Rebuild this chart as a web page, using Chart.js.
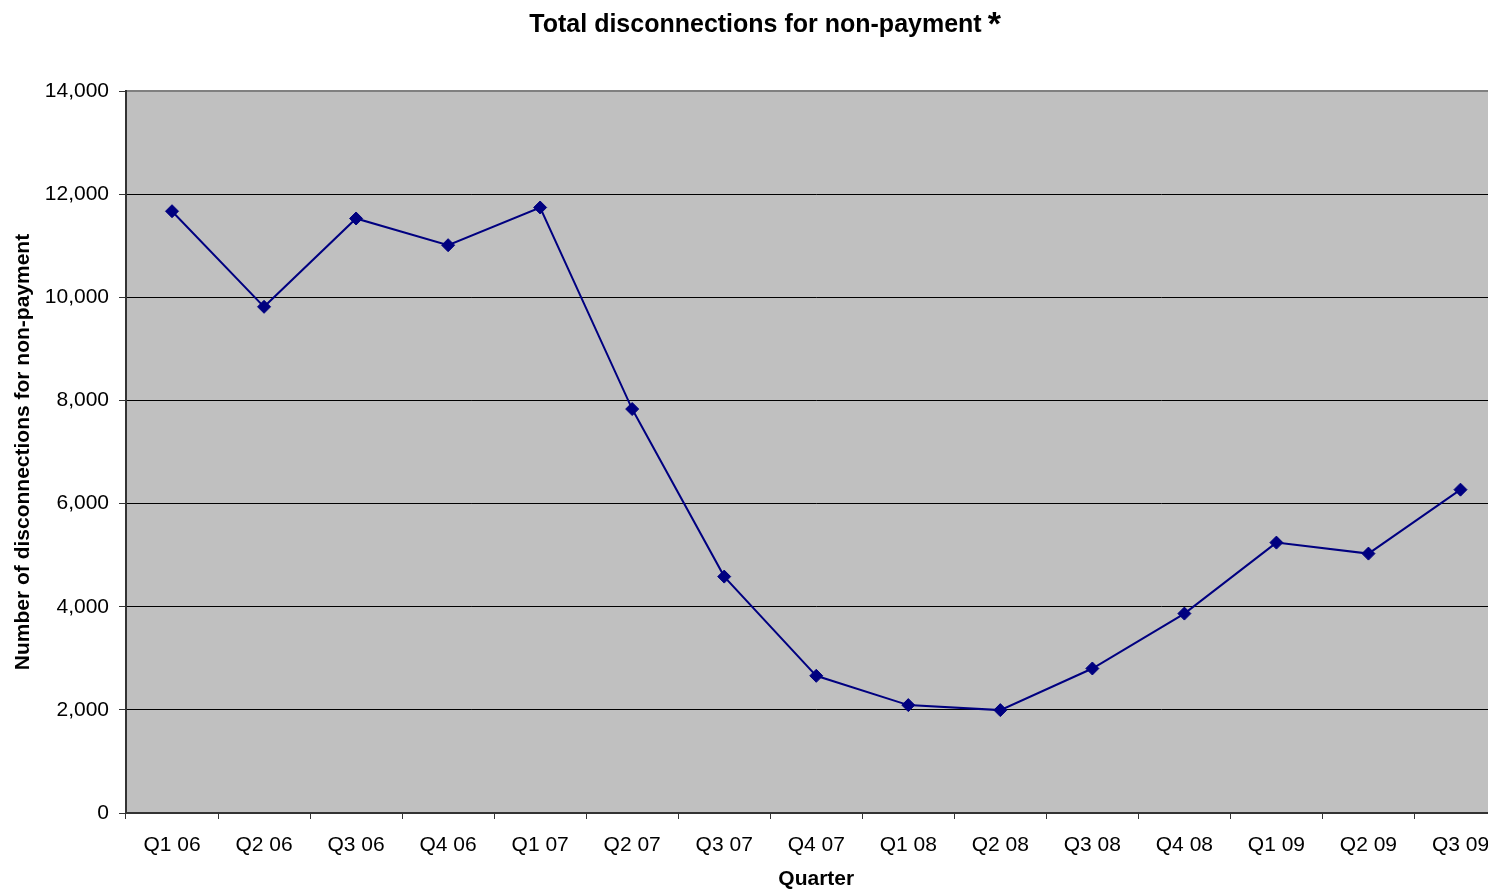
<!DOCTYPE html>
<html>
<head>
<meta charset="utf-8">
<title>Total disconnections for non-payment</title>
<script src="https://cdn.jsdelivr.net/npm/chart.js@4"></script>
<style>
  html, body { margin: 0; padding: 0; overflow: hidden; background: #fff; }
  #wrap { width: 1514px; height: 889px; position: relative; }
</style>
</head>
<body>
<div id="wrap"><canvas id="chart" width="1514" height="889"></canvas></div>
<script>
// Quarterly totals of disconnections for non-payment
const quarters = ['Q1 06', 'Q2 06', 'Q3 06', 'Q4 06', 'Q1 07', 'Q2 07', 'Q3 07', 'Q4 07',
                  'Q1 08', 'Q2 08', 'Q3 08', 'Q4 08', 'Q1 09', 'Q2 09', 'Q3 09'];
const disconnections = [11669, 9815, 11528, 11010, 11741, 7833, 4584, 2660,
                        2092, 1995, 2802, 3867, 5243, 5030, 6270];
const yTicks = [0, 2000, 4000, 6000, 8000, 10000, 12000, 14000];

const chartTitle = 'Total disconnections for non-payment';
const FONT = "'Liberation Sans', Arial, Helvetica, sans-serif";

// Grey plot background and border around the plotting area
const plotBackground = {
  id: 'plotBackground',
  beforeDraw(chart) {
    const { ctx, chartArea: a } = chart;
    ctx.save();
    ctx.fillStyle = '#c0c0c0';
    ctx.fillRect(a.left, a.top, a.right - a.left, a.bottom - a.top);
    ctx.strokeStyle = '#808080';
    ctx.lineWidth = 2;
    ctx.beginPath();
    ctx.moveTo(a.left, a.top);
    ctx.lineTo(a.right, a.top);
    ctx.lineTo(a.right, a.bottom);
    ctx.stroke();
    ctx.restore();
  }
};

// Raised asterisk following the title text
const titleAsterisk = {
  id: 'titleAsterisk',
  afterDraw(chart) {
    const { ctx } = chart;
    const box = chart.titleBlock;
    ctx.save();
    ctx.font = 'bold 25px ' + FONT;
    const w = ctx.measureText(chartTitle).width;
    const cx = (box.left + box.right) / 2;
    ctx.font = 'bold 34px ' + FONT;
    ctx.fillStyle = '#000';
    ctx.textAlign = 'left';
    ctx.textBaseline = 'alphabetic';
    ctx.fillText('*', cx + w / 2 + 6, 35);
    ctx.restore();
  }
};

new Chart(document.getElementById('chart'), {
  type: 'line',
  data: {
    labels: quarters,
    datasets: [{
      data: disconnections,
      borderColor: '#000080',
      backgroundColor: '#000080',
      borderWidth: 2,
      pointStyle: 'rectRot',
      pointRadius: 6.5,
      pointBorderWidth: 1,
      pointBackgroundColor: '#000080',
      pointBorderColor: '#000080',
      tension: 0,
      fill: false
    }]
  },
  options: {
    responsive: false,
    animation: false,
    devicePixelRatio: 1,
    layout: { padding: { left: 0, right: 3, top: 0, bottom: 0 } },
    plugins: {
      legend: { display: false },
      tooltip: { enabled: false },
      title: {
        display: true,
        text: chartTitle,
        color: '#000',
        font: { family: FONT, size: 25, weight: 'bold', lineHeight: 1.2 },
        padding: { top: 10, bottom: 51 }
      }
    },
    scales: {
      x: {
        type: 'category',
        offset: true,
        grid: {
          offset: true,
          drawOnChartArea: false,
          drawTicks: true,
          tickLength: 6,
          tickColor: '#333',
          tickWidth: 1
        },
        border: { display: true, color: '#333', width: 2 },
        ticks: {
          color: '#000',
          font: { family: FONT, size: 21 },
          padding: 14,
          maxRotation: 0,
          autoSkip: false
        },
        title: {
          display: true,
          text: 'Quarter',
          color: '#000',
          font: { family: FONT, size: 21, weight: 'bold', lineHeight: 0.9 },
          padding: { top: 0, bottom: 0 }
        },
        afterFit(scale) { scale.height = 76; }
      },
      y: {
        min: 0,
        max: 14000,
        afterBuildTicks(scale) { scale.ticks = yTicks.map(v => ({ value: v })); },
        grid: {
          color: (c) => (c.tick && c.tick.value === 14000) ? 'rgba(0,0,0,0)' : '#000',
          lineWidth: 1,
          drawTicks: true,
          tickLength: 7,
          tickColor: '#333'
        },
        border: { display: true, color: '#333', width: 2 },
        ticks: {
          color: '#000',
          font: { family: FONT, size: 21 },
          padding: 10,
          callback: (v) => Number(v).toLocaleString('en-US')
        },
        title: {
          display: true,
          text: 'Number of disconnections for non-payment',
          color: '#000',
          font: { family: FONT, size: 21, weight: 'bold', lineHeight: 1.0 },
          padding: { top: 13, bottom: 0 }
        },
        afterFit(scale) { scale.width = 126; }
      }
    }
  },
  plugins: [plotBackground, titleAsterisk]
});
</script>
</body>
</html>
